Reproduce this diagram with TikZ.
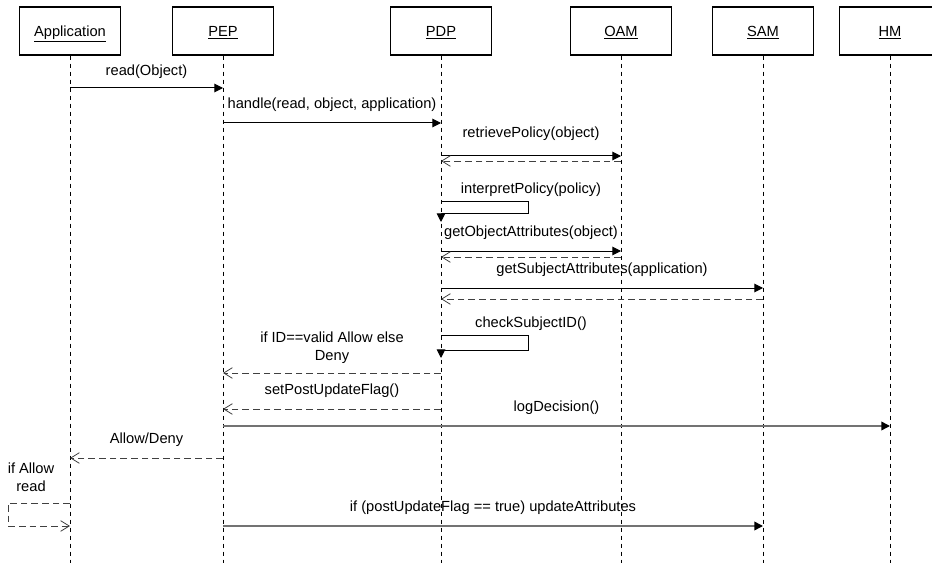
\documentclass[tikz,border=0pt]{standalone}
\usepackage{fontspec}
\setmainfont{Liberation Sans}
\usetikzlibrary{arrows.meta}
\tikzset{
  head/.style={draw, line width=0.8pt, minimum width=75.75pt, minimum height=36pt, inner sep=0pt, text height=7.9pt, text depth=0pt, font=\fontsize{11}{13.5}\selectfont},
  lifeline/.style={dash pattern=on 3.5pt off 2.5pt, line width=0.6pt},
  msg/.style={-{Triangle[length=6.5pt, width=6.5pt]}, line width=0.75pt},
  longmsg/.style={-{Triangle[length=6.5pt, width=6.5pt, color=black]}, line width=1.1pt, black!55},
  ret/.style={-{Straight Barb[length=6.5pt, width=8pt]}, dash pattern=on 5pt off 3pt, line width=0.6pt, black!75},
  lbl/.style={font=\fontsize{11}{13.5}\selectfont, inner sep=0pt, align=center, black}
}
\begin{document}
\begin{tikzpicture}[x=0.75pt, y=-0.75pt]
  \useasboundingbox (0,0) rectangle (932,563);
  % participants
  \node[head] (app) at (70,31)  {\underline{Application}};
  \node[head] (pep) at (223,31) {\underline{PEP}};
  \node[head] (pdp) at (441,31) {\underline{PDP}};
  \node[head] (oam) at (621,31) {\underline{OAM}};
  \node[head] (sam) at (763,31) {\underline{SAM}};
  \node[head] (hm)  at (890,31) {\underline{HM}};
  \coordinate (bot) at (0,563);
  \foreach \p in {app, pep, pdp, oam, sam, hm}
    \draw[lifeline] (\p.south) -- (\p |- bot);
  % message levels
  \foreach \n/\y in {m1/88, m2/123, m3/156, r3/161, s4/202, m5/251, r5/257, m6/288, r6/299,
                     s7/335, r8/373, r9/409, m10/426, r11/458, s12/503, m13/526}
    \coordinate (\n) at (0,\y);
  % messages
  \draw[msg] (app |- m1) -- node[lbl, midway, above=7pt] (l1) {read(Object)} (pep |- m1);
  \draw[msg] (pep |- m2) -- node[lbl, midway, above=8pt] (l2) {handle(read, object, application)} (pdp |- m2);
  \draw[msg] (pdp |- m3) -- node[lbl, midway, above=11pt] (l3) {retrievePolicy(object)} (oam |- m3);
  \draw[ret] (oam |- r3) -- (pdp |- r3);
  \draw[msg] (pdp |- s4) -- ++(87,0) -- ++(0,12) -- ++(-87,0) -- ++(0,8);
  \node[lbl] (l4) at (531,190) {interpretPolicy(policy)};
  \draw[msg] (pdp |- m5) -- node[lbl, midway, above=8pt] (l5) {getObjectAttributes(object)} (oam |- m5);
  \draw[ret] (oam |- r5) -- (pdp |- r5);
  \draw[msg] (pdp |- m6) -- node[lbl, midway, above=8pt] (l6) {getSubjectAttributes(application)} (sam |- m6);
  \draw[ret] (sam |- r6) -- (pdp |- r6);
  \draw[msg] (pdp |- s7) -- ++(87,0) -- ++(0,15) -- ++(-87,0) -- ++(0,8);
  \node[lbl] (l7) at (531,324) {checkSubjectID()};
  \draw[ret] (pdp |- r8) -- node[lbl, midway, above=7pt] (l8) {if ID==valid Allow else\\Deny} (pep |- r8);
  \draw[ret] (pdp |- r9) -- node[lbl, midway, above=8pt] (l9) {setPostUpdateFlag()} (pep |- r9);
  \draw[longmsg] (pep |- m10) -- node[lbl, midway, above=8pt] (l10) {logDecision()} (hm |- m10);
  \draw[ret] (pep |- r11) -- node[lbl, midway, above=8pt] (l11) {Allow/Deny} (app |- r11);
  \draw[ret] (app |- s12) -- ++(-62,0) -- ++(0,23) -- ++(62,0);
  \node[lbl] (l12) at (31,477) {if Allow\\read};
  \draw[longmsg] (pep |- m13) -- node[lbl, midway, above=8pt] (l13) {if (postUpdateFlag == true) updateAttributes} (sam |- m13);
\end{tikzpicture}
\end{document}
